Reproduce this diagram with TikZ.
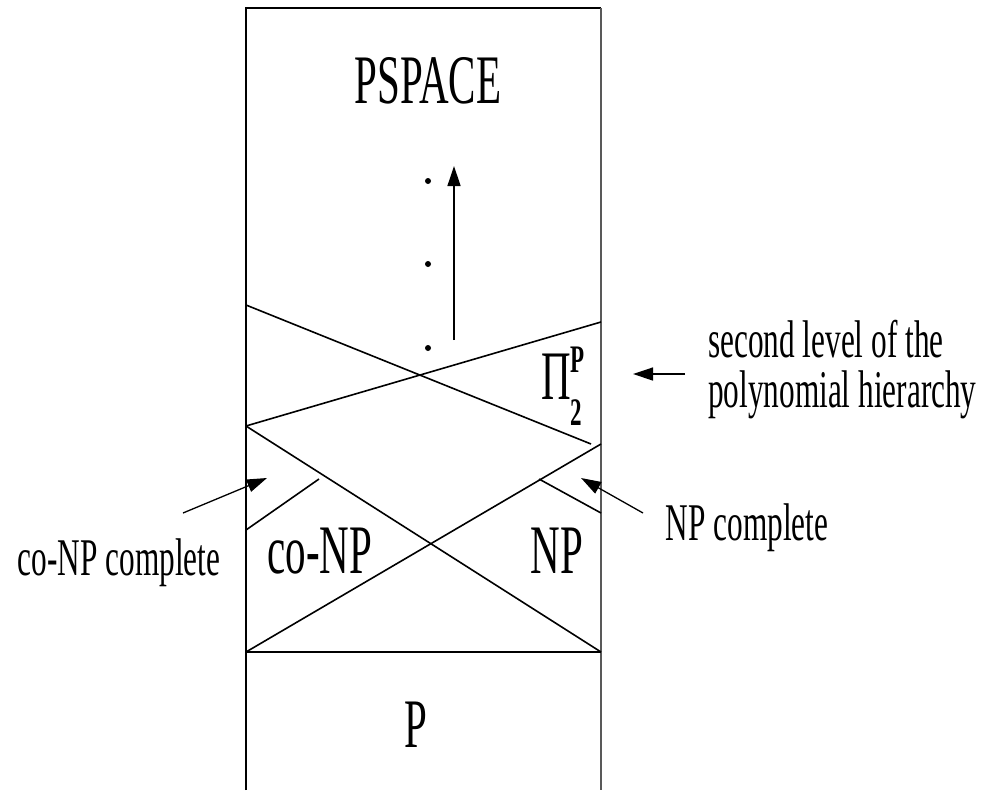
\documentclass[tikz,border=0pt]{standalone}
\usepackage{fontspec}
\setmainfont{Liberation Serif}
\usepackage{graphicx}
\usetikzlibrary{arrows.meta}
\newcommand\cnd[1]{\scalebox{0.59}[1]{#1}}
\newcommand\bigfs{\fontsize{69.5}{72}\selectfont}
\newcommand\lblfs{\fontsize{53}{50}\selectfont}
\newcommand\supfs{\fontsize{39}{40}\selectfont\bfseries}
\begin{document}
\begin{tikzpicture}[x=1pt,y=-1pt,
  frame/.style={line width=1.2pt},
  rborder/.style={line width=1.8pt, black!65},
  sep/.style={line width=1.6pt},
  arr/.style={line width=1.3pt, -{Triangle[length=20pt,width=13pt]}},
  big/.style={inner sep=0pt, anchor=base, font=\bigfs},
  lbl/.style={inner sep=0pt, font=\lblfs},
  dot/.style={circle, fill, inner sep=0pt, minimum size=6pt}]
\useasboundingbox (0,0) rectangle (985,790);
% frame corners
\coordinate (tl) at (246,8);
\coordinate (tr) at (601,8);
\coordinate (bl) at (246,790);
\coordinate (br) at (601,790);
% separator points
\coordinate (l305) at (246,305);
\coordinate (r444a) at (591,444);
\coordinate (l426) at (246,426);
\coordinate (r322) at (601,322);
\coordinate (r652) at (601,652);
\coordinate (l652) at (246,652);
\coordinate (r444) at (601,444);
\coordinate (l530) at (246,530);
\coordinate (c479) at (319,479);
\coordinate (n479) at (539,479);
\coordinate (r513) at (601,513);
% frame
\draw[frame] (bl) -- (tl) -- (tr);
\draw[rborder] (tr) -- (br);
% separators
\draw[sep] (l305) -- (r444a);
\draw[sep] (l426) -- (r322);
\draw[sep] (l426) -- (r652);
\draw[sep] (l652) -- (r444);
\draw[sep] (l652) -- (r652);
\draw[sep] (l530) -- (c479);
\draw[sep] (n479) -- (r513);
% class names
\node[big] (pspace) at (428,103) {\cnd{PSPACE}};
\node[big] (conp) at (320,573) {\cnd{co-NP}};
\node[big] (np) at (557,573) {\cnd{NP}};
\node[big] (p) at (416,747) {\cnd{P}};
\node[inner sep=0pt, anchor=base west] (pi2) at (541,399)
  {\cnd{\bigfs Π}\cnd{\supfs\rlap{\raisebox{27pt}{P}}\raisebox{-26pt}{2}}};
% dots
\node[dot] (d1) at (428,181) {};
\node[dot] (d2) at (428,264) {};
\node[dot] (d3) at (428,348) {};
% labels
\node[lbl, anchor=base west] (lev) at (708,357)
  {\cnd{\vtop{\baselineskip=50pt\hbox{second level of the}\hbox{polynomial hierarchy}}}};
\node[lbl, anchor=base] (npc) at (747,540) {\cnd{NP complete}};
\node[lbl, anchor=base] (conpc) at (119,575) {\cnd{co-NP complete}};
% arrows
\coordinate (up0) at (454,340);
\coordinate (up1) at (454,166);
\coordinate (la0) at (685,374);
\coordinate (la1) at (633,374);
\coordinate (ca0) at (183,513);
\coordinate (ca1) at (267,478);
\coordinate (na0) at (643,513);
\coordinate (na1) at (581,478);
\draw[arr] (up0) -- (up1);
\draw[arr] (la0) -- (la1);
\draw[arr] (ca0) -- (ca1);
\draw[arr] (na0) -- (na1);
\end{tikzpicture}
\end{document}
